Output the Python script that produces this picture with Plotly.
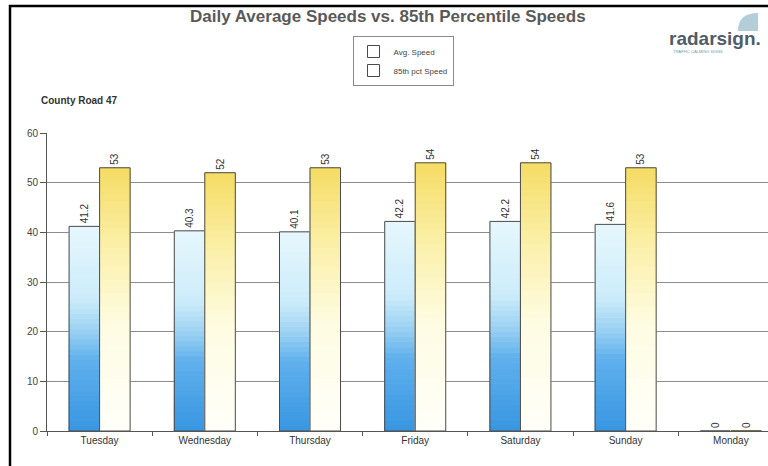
import numpy as np
import plotly.graph_objects as go

days = ["Tuesday", "Wednesday", "Thursday", "Friday", "Saturday", "Sunday", "Monday"]
avg_speed = [41.2, 40.3, 40.1, 42.2, 42.2, 41.6, 0]
pct85_speed = [53, 52, 53, 54, 54, 53, 0]
avg_labels = ["41.2", "40.3", "40.1", "42.2", "42.2", "41.6", "0"]
pct85_labels = ["53", "52", "53", "54", "54", "53", "0"]
y_ticks = [0, 10, 20, 30, 40, 50, 60]

BLUE_STOPS = [(0.0, (56, 150, 225)), (0.35, (95, 176, 236)), (0.5, (158, 211, 243)),
              (0.65, (204, 236, 250)), (1.0, (230, 247, 253))]
YELLOW_STOPS = [(0.0, (255, 255, 250)), (0.4, (254, 252, 226)), (0.7, (251, 240, 170)),
                (1.0, (245, 220, 100))]

# plot-area geometry in page pixels
L, R, T, B = 47, 768, 133, 431
PW, PH = R - L, B - T


def px(x):
    return (x - L) / PW


def py(y):
    return (B - y) / PH


def grad(stops, t):
    ts = [s[0] for s in stops]
    rgb = [np.interp(t, ts, [s[1][k] for s in stops]) for k in range(3)]
    return "rgb(%d,%d,%d)" % tuple(int(round(c)) for c in rgb)


N = 40
W = 0.29
fig = go.Figure()


def add_series(values, labels, name, stops, offset):
    vals = np.array(values, dtype=float)
    for i in range(N):
        t = (i + 0.5) / N
        base = vals * i / N
        h = vals / N
        c = grad(stops, t)
        fig.add_trace(go.Bar(
            x=days, y=h, base=base, offset=offset, width=W,
            marker=dict(color=c, line=dict(width=1, color=c)),
            showlegend=False, hoverinfo="skip"))
    fig.add_trace(go.Bar(
        x=days, y=vals, offset=offset, width=W, name=name,
        marker=dict(color="rgba(0,0,0,0)", line=dict(color="#4a4a4a", width=1)),
        text=labels, textposition="outside", textangle=-90,
        textfont=dict(size=10, color="#333333"), cliponaxis=False))


add_series(avg_speed, avg_labels, "Avg. Speed", BLUE_STOPS, -W)
add_series(pct85_speed, pct85_labels, "85th pct Speed", YELLOW_STOPS, 0)

fig.update_layout(
    width=768, height=466,
    margin=dict(l=L, r=768 - R, t=T, b=466 - B),
    paper_bgcolor="white", plot_bgcolor="white",
    barmode="overlay",
    font=dict(family="Liberation Sans, Arial, sans-serif", color="#333333"),
    showlegend=True,
    legend=dict(x=px(403), xanchor="center", y=py(36), yanchor="top",
                bordercolor="#8a8a8a", borderwidth=1, bgcolor="white",
                font=dict(size=8, color="#444444"), itemwidth=30,
                tracegroupgap=0),
    xaxis=dict(range=[-0.5, 6.353], showgrid=False, showline=True,
               linecolor="#555555", linewidth=1, ticks="outside",
               tickson="boundaries", ticklen=4, tickcolor="#555555",
               tickfont=dict(size=10, color="#333333")),
    yaxis=dict(range=[0, 60], tickvals=y_ticks, showgrid=True,
               gridcolor="#8c8c8c", gridwidth=1, showline=True,
               linecolor="#555555", linewidth=1, ticks="outside",
               ticklen=6, tickcolor="#555555", zeroline=False,
               tickfont=dict(size=10, color="#444444")),
    annotations=[
        dict(text="<b>Daily Average Speeds vs. 85th Percentile Speeds</b>",
             xref="paper", yref="paper", x=px(388), y=py(17), xanchor="center",
             yanchor="middle", showarrow=False,
             font=dict(size=17, color="#5a5a5a")),
        dict(text="<b>County Road 47</b>", xref="paper", yref="paper",
             x=px(39), y=py(101), xanchor="left", yanchor="middle",
             showarrow=False, font=dict(size=10, color="#333333")),
        dict(text="<b>radarsign.</b>", xref="paper", yref="paper",
             x=px(763), y=py(38), xanchor="right", yanchor="middle",
             showarrow=False, font=dict(size=19, color="#4f5d68")),
        dict(text="TRAFFIC CALMING SIGNS", xref="paper", yref="paper",
             x=px(671), y=py(51), xanchor="left", yanchor="middle",
             showarrow=False, font=dict(size=4, color="#6a9ea6")),
    ],
    shapes=[
        dict(type="line", xref="paper", yref="paper", x0=px(9), x1=px(768),
             y0=py(6), y1=py(6), line=dict(color="black", width=2.5)),
        dict(type="line", xref="paper", yref="paper", x0=px(10), x1=px(10),
             y0=py(5), y1=py(466), line=dict(color="black", width=2.5)),
        dict(type="path", xref="paper", yref="paper",
             path="M %f %f L %f %f Q %f %f %f %f Z" % (
                 px(758), py(31), px(738), py(31),
                 px(738), py(13), px(758), py(13)),
             fillcolor="#b3cdd9", line=dict(width=0)),
    ],
)

fig.write_html("out.html", post_script="document.body.style.margin='0';",
               config={"displayModeBar": False})
